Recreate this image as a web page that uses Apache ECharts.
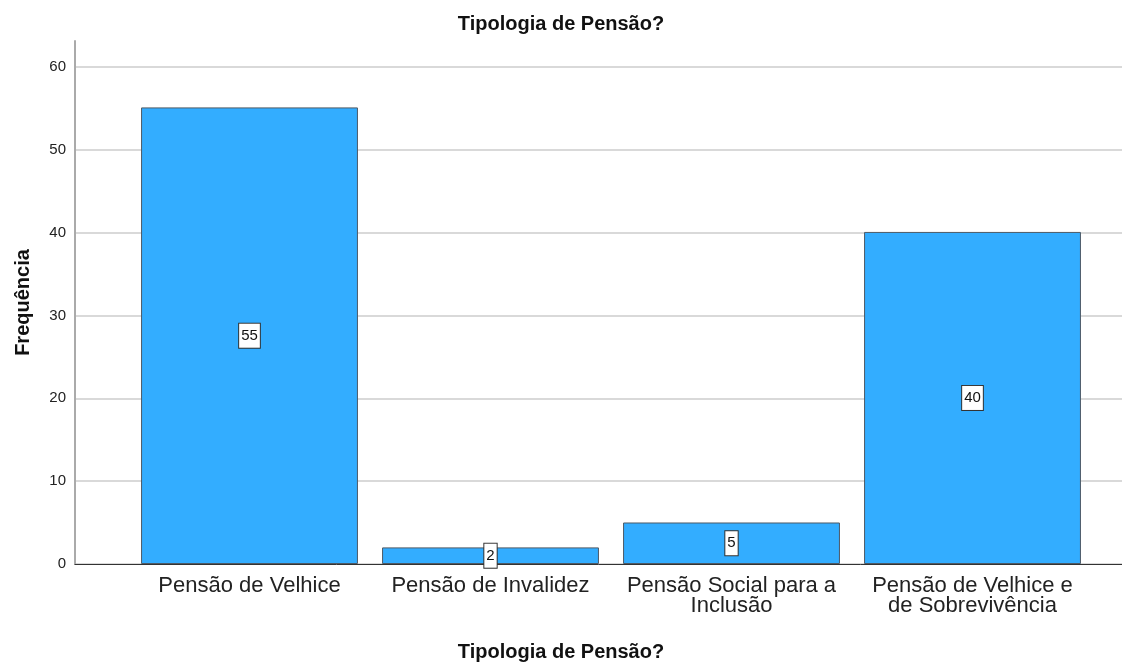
<!DOCTYPE html>
<html>
<head>
<meta charset="utf-8">
<script src="https://cdn.jsdelivr.net/npm/echarts@6/dist/echarts.min.js"></script>
<style>
    html, body { margin: 0; padding: 0; background: #fff; }
    #chart { width: 1122px; height: 663px; }
</style>
</head>
<body>
<div id="chart"></div>
<script>
    // data
    const categories = ['Pensão de Velhice', 'Pensão de Invalidez', 'Pensão Social para a\nInclusão', 'Pensão de Velhice e\nde Sobrevivência'];
    const frequencies = [55, 2, 5, 40];
    const chartTitle = 'Tipologia de Pensão?';
    const yName = 'Frequência';

    const font = 'Liberation Sans, Arial, sans-serif';
    const barColor = '#33adff';

    let chart = echarts.init(document.getElementById('chart'), null, {renderer: 'canvas'});

    chart.setOption({
        animation: false,
        textStyle: {fontFamily: font},
        title: [
            {
                text: chartTitle,
                left: 'center',
                top: 9,
                textStyle: {fontSize: 20, fontWeight: 'bold', color: '#111', fontFamily: font}
            },
            {
                text: chartTitle,
                left: 'center',
                top: 637,
                textStyle: {fontSize: 20, fontWeight: 'bold', color: '#111', fontFamily: font}
            }
        ],
        // grid 0: tick labels + gridlines (0..60), grid 1: the full height axis line, grid 2: bars
        grid: [
            {left: 75, right: 0, top: 67, bottom: 99},
            {left: 75, right: 0, top: 41, bottom: 99},
            {left: 129, right: 29, top: 41, bottom: 99}
        ],
        xAxis: [
            {
                type: 'value',
                gridIndex: 0,
                min: 0,
                max: 1,
                axisLine: {show: true, onZero: false, lineStyle: {color: '#333', width: 1}},
                axisTick: {show: false},
                axisLabel: {show: false},
                splitLine: {show: false}
            },
            {
                type: 'value',
                gridIndex: 1,
                min: 0,
                max: 1,
                show: false
            },
            {
                type: 'category',
                gridIndex: 2,
                data: categories,
                axisLine: {show: false},
                axisTick: {show: false},
                axisLabel: {
                    fontSize: 22,
                    lineHeight: 20,
                    color: '#222',
                    margin: 12,
                    interval: 0,
                    fontFamily: font
                }
            }
        ],
        yAxis: [
            {
                type: 'value',
                gridIndex: 0,
                min: 0,
                max: 60,
                interval: 10,
                axisLine: {show: false},
                axisTick: {show: false},
                axisLabel: {fontSize: 15, color: '#222', margin: 9, fontFamily: font},
                splitLine: {show: true, lineStyle: {color: '#d9d9d9', width: 2}}
            },
            {
                type: 'value',
                gridIndex: 1,
                min: 0,
                max: 63,
                name: yName,
                nameLocation: 'middle',
                nameGap: 42,
                nameTextStyle: {fontSize: 20, fontWeight: 'bold', color: '#111', fontFamily: font},
                axisLine: {show: true, lineStyle: {color: '#aaa', width: 2}},
                axisTick: {show: false},
                axisLabel: {show: false},
                splitLine: {show: false}
            },
            {
                type: 'value',
                gridIndex: 2,
                min: 0,
                max: 63,
                show: false
            }
        ],
        series: [
            {
                type: 'bar',
                xAxisIndex: 2,
                yAxisIndex: 2,
                data: frequencies,
                barWidth: '90%',
                itemStyle: {color: barColor, borderColor: '#4d5a66', borderWidth: 1},
                label: {
                    show: true,
                    position: 'inside',
                    fontSize: 15,
                    color: '#111',
                    backgroundColor: '#fff',
                    borderColor: '#333',
                    borderWidth: 1,
                    padding: [5, 2, 4, 2],
                    fontFamily: font
                }
            }
        ]
    });
</script>
</body>
</html>
